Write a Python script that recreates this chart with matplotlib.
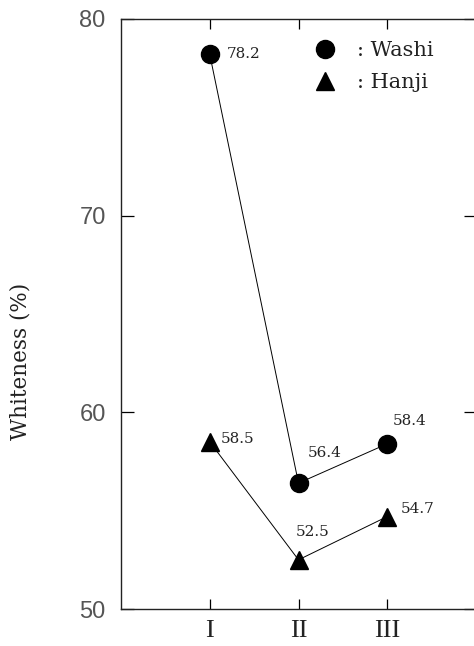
import matplotlib
matplotlib.use("Agg")
import matplotlib.pyplot as plt
from matplotlib.lines import Line2D

categories = ["I", "II", "III"]
washi = [78.2, 56.4, 58.4]
hanji = [58.5, 52.5, 54.7]
yticks = [50, 60, 70, 80]

# label offsets in pixels (dx to left edge, dy to centre; +dy = up)
washi_off = [(17, 0), (9, 30), (6, 23)]
hanji_off = [(11, 3), (-3, 28), (13, 8)]

W, H = 474, 646
fig = plt.figure(figsize=(W / 100, H / 100), dpi=100)
ax = fig.add_axes([121 / W, (H - 609) / H, (476 - 121) / W, (609 - 19) / H])

x = list(range(1, len(categories) + 1))
serif = "DejaVu Serif"

ax.plot(x, washi, color="black", lw=0.7, marker="o", ms=13, mfc="black", mec="black", zorder=3)
ax.plot(x, hanji, color="black", lw=0.7, marker="^", ms=12.5, mfc="black", mec="black", zorder=3)

for xs, ys, offs in [(x, washi, washi_off), (x, hanji, hanji_off)]:
    for xi, yi, (dx, dy) in zip(xs, ys, offs):
        ax.annotate(f"{yi:.1f}", (xi, yi), xytext=(dx * 0.72, dy * 0.72),
                    textcoords="offset points", ha="left", va="center",
                    fontsize=11, family=serif, color="#222222")

ax.set_xlim(0, 4)
ax.set_ylim(50, 80)
ax.set_xticks(x)
ax.set_xticklabels(categories, family="Liberation Serif", fontsize=19, color="#222222")
ax.set_yticks(yticks)
ax.set_yticklabels([str(v) for v in yticks], family="Liberation Sans",
                   fontsize=17, color="#555555")
ax.tick_params(axis="y", direction="in", length=9, width=0.9, pad=11, left=True, right=True)
ax.tick_params(axis="x", direction="in", length=7, width=0.9, pad=8, top=True, bottom=True)
for s in ax.spines.values():
    s.set_linewidth(1.0)
    s.set_color("#222222")

ax.set_ylabel("Whiteness (%)", family=serif, fontsize=15.5, color="#222222")
ax.yaxis.set_label_coords(-0.251, 0.419)

handles = [Line2D([], [], ls="none", marker="o", ms=13, color="black"),
           Line2D([], [], ls="none", marker="^", ms=12.5, color="black")]
leg = ax.legend(handles, [": Washi", ": Hanji"], loc="upper left",
                bbox_to_anchor=(315 / W, (H - 41) / H), bbox_transform=fig.transFigure,
                frameon=False, handlelength=1.0, handletextpad=1.0, labelspacing=0.62,
                borderpad=0, borderaxespad=0, prop={"family": serif, "size": 15})
for t in leg.get_texts():
    t.set_color("#222222")

fig.savefig("out.png", dpi=100)
